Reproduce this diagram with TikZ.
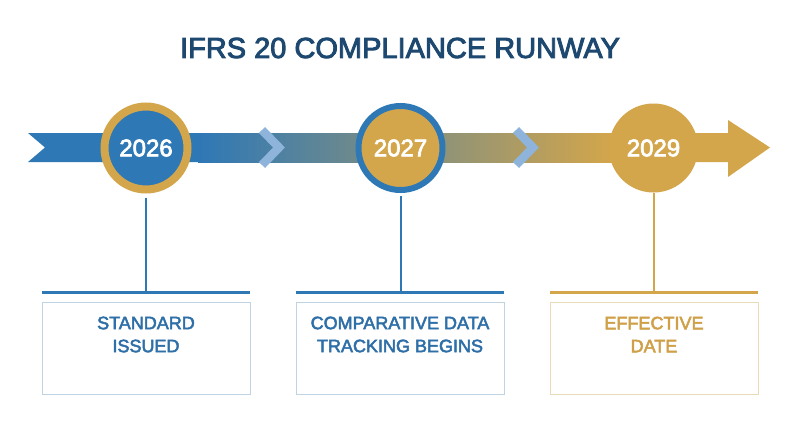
\documentclass[tikz,border=0pt]{standalone}
\usepackage{fontspec}
\setmainfont{Liberation Sans}
\usetikzlibrary{calc}
\newcommand\heavytxt[2]{\special{pdf:literal direct 2 Tr #1 w}#2\special{pdf:literal direct 0 Tr}}
\definecolor{cblue}{HTML}{2E78B6}
\definecolor{cgold}{HTML}{D4A64B}
\definecolor{ctitle}{HTML}{1D4870}
\definecolor{cchev}{HTML}{8EB4DC}
\definecolor{cbord}{HTML}{BFD3E3}
\definecolor{cgbord}{HTML}{E8DCB8}
\definecolor{clabel}{HTML}{2E6FA8}
\definecolor{cglabel}{HTML}{CFA048}
\tikzset{
  chev/.style={draw=cchev, line width=8.5pt, miter limit=10},
  yeartxt/.style={text=white, font=\fontsize{24}{28}\selectfont},
  stem/.style={line width=2pt},
  bar/.style={line width=3pt},
  labelbox/.style={draw, line width=0.8pt, minimum width=208pt, minimum height=92pt, inner sep=0pt},
  labeltxt/.style={font=\fontsize{18}{23}\selectfont, align=center},
}
\begin{document}
\begin{tikzpicture}[x=1pt,y=-1pt]
\useasboundingbox (0,0) rectangle (800,447);
\fill[white] (0,0) rectangle (800,447);
% title
\node[text=ctitle, font=\fontsize{29}{34}\selectfont] (title) at (400,48) {\heavytxt{0.9}{IFRS 20 COMPLIANCE RUNWAY}};
% band
\fill[cblue] (28,133) -- (202,133) -- (202,162) -- (28,162) -- (45,147.5) -- cycle;
\shade[left color=cblue, right color=cgold] (198,133) rectangle (614,162);
\fill[cgold] (612,133) -- (728,133) -- (728,120) -- (770,147.5) -- (728,177) -- (728,162) -- (612,162) -- cycle;
% chevrons
\draw[chev] (262,130) -- (279,147.5) -- (262,165);
\draw[chev] (516,130) -- (533,147.5) -- (516,165);
% circles
\node[circle, fill=cblue, draw=cgold, line width=8pt, minimum size=83pt, inner sep=0pt] (c1) at (146,148) {};
\node[circle, fill=cgold, draw=cblue, line width=6pt, minimum size=84pt, inner sep=0pt] (c2) at (400.5,148) {};
\node[circle, fill=cgold, minimum size=89pt, inner sep=0pt] (c3) at (653.5,148) {};
\node[yeartxt] at (c1) {\heavytxt{0.7}{2026}};
\node[yeartxt] at (c2) {\heavytxt{0.7}{2027}};
\node[yeartxt] at (c3) {\heavytxt{0.7}{2029}};
% bars
\coordinate (b1) at (146,292);
\coordinate (b2) at (400.5,292);
\coordinate (b3) at (653.5,292);
\draw[stem, cblue] ($(c1.south)+(0,4)$) -- (b1);
\draw[stem, cblue] ($(c2.south)+(0,3)$) -- (b2);
\draw[stem, cgold] (c3.south) -- (b3);
\draw[bar, cblue] (42,292) -- (250,292);
\draw[bar, cblue] (296,292) -- (504,292);
\draw[bar, cgold] (550,292) -- (758,292);
% boxes
\node[labelbox, draw=cbord] (l1) at (146,348) {};
\node[labelbox, draw=cbord] (l2) at (400,348) {};
\node[labelbox, draw=cgbord] (l3) at (654,348) {};
\node[labeltxt, text=clabel] at (146,334.5) {\heavytxt{0.5}{STANDARD}\\\heavytxt{0.5}{ISSUED}};
\node[labeltxt, text=clabel] at (400,334.5) {\heavytxt{0.5}{COMPARATIVE DATA}\\\heavytxt{0.5}{TRACKING BEGINS}};
\node[labeltxt, text=cglabel] at (654,334.5) {\heavytxt{0.5}{EFFECTIVE}\\\heavytxt{0.5}{DATE}};
\end{tikzpicture}
\end{document}
